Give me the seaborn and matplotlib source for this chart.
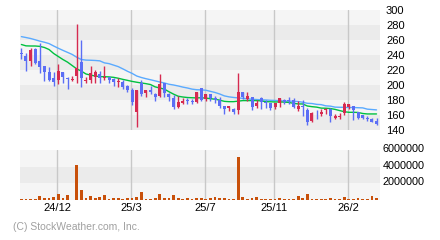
import numpy as np
import pandas as pd
import matplotlib
matplotlib.use("Agg")
import matplotlib.pyplot as plt
import matplotlib.transforms as mtransforms
import seaborn as sns

# ---------------- data ----------------
opens = [242, 238.7, 232.5, 248, 232, 225.4, 217.4, 209, 206.7, 217.4,
         209.4, 206.7, 212.5, 231.1, 205.9, 206.7, 211.1, 214.3, 209, 210.3,
         207.6, 204, 204.5, 198.7, 193.4, 164.4, 202.3, 189, 193.4, 188,
         185.8, 203.2, 188, 183.2, 171.1, 176.6, 180, 178.3, 177.8, 195.6,
         181, 187.6, 183.2, 180, 172, 169.4, 167.6, 166.7, 191.1, 181,
         183.6, 172, 182.3, 177.8, 175.6, 171.1, 175.6, 180, 180, 180,
         168.4, 172, 166.7, 152, 163.2, 161.3, 166.7, 167.6, 155.6, 157,
         163.2, 171.1, 172, 164.4, 160, 156.5, 154.7, 152]
highs = [249, 243, 248.9, 249, 255.6, 225.4, 223.6, 217.8, 228, 217.4,
         211.1, 212.5, 281.3, 260, 211.1, 225.4, 220, 218.7, 225.4, 211.1,
         209, 209, 206.7, 200, 195.6, 193.4, 206.7, 193.4, 198.7, 189,
         214.7, 203.2, 189, 186.7, 185.4, 182.3, 182.3, 181, 191.1, 195.6,
         187.6, 187.6, 185.4, 183.6, 172, 172, 169.8, 216.5, 191.1, 191.1,
         183.6, 180, 183.6, 180, 176.5, 176.5, 183.2, 181, 183.6, 182.3,
         178.7, 180, 168.9, 164.4, 166.7, 167.6, 168.9, 168.9, 161.4, 162.3,
         177, 174.2, 172, 164.4, 160, 158.7, 155.6, 155.6]
lows = [234, 218.7, 225.8, 227.6, 215.6, 205.9, 205.9, 198.7, 201.3, 202.3,
        194.7, 205.4, 202.3, 197.8, 203.2, 203.2, 203.2, 203.2, 206.7, 202.3,
        198.7, 197.8, 194.2, 190.7, 173.4, 144.4, 185.4, 184.5, 188, 179,
        184.5, 183.6, 178.7, 168, 169.8, 174.7, 174.7, 174.7, 176.5, 179.2,
        179.2, 179.2, 176.5, 169, 161.4, 165.9, 161.4, 161.4, 181, 178.7,
        166.7, 169.8, 168, 169.8, 166.7, 168, 171.1, 174.2, 174.2, 169.8,
        165.9, 158.7, 146.7, 150.7, 154.7, 158.7, 161.4, 150, 154.2, 154.7,
        160, 168, 153.3, 154.2, 154.7, 152, 150.2, 146.7]
closes = [241, 232.5, 246.7, 228.9, 223.6, 217.8, 206.7, 204.5, 218.3, 211.1,
          207.6, 208, 222.7, 209, 207.2, 215.6, 217.4, 209, 211.1, 206.7,
          204.5, 205, 197, 193.4, 177.9, 193.4, 188, 193.4, 190.3, 183.6,
          201.3, 189, 183.6, 171.1, 177.8, 179.2, 178.3, 177.4, 191.1, 180,
          187.6, 182.3, 180, 172, 168, 172, 164.4, 191.1, 183.6, 185.4,
          171.1, 176.5, 177.8, 176.5, 169, 175.6, 182.3, 177.8, 179.2, 171.1,
          172, 170.3, 151.1, 163.2, 162.3, 164.4, 167.6, 158.7, 158.7, 158.7,
          174.7, 174.2, 166.7, 156.5, 156.5, 155.1, 151.1, 148]
ma_short = [254, 252.2, 252, 252, 251.5, 250, 247.3, 242, 238, 234,
            230.5, 226, 221.5, 218.5, 214.7, 213.2, 212, 211.1, 211.1, 210.8,
            210.2, 209, 207.5, 206.2, 204.8, 203.7, 202.7, 201.8, 200.6, 197.5,
            196, 194.5, 191, 187.8, 185, 184, 183.3, 183, 182.8, 183,
            182.5, 181.8, 181, 179.8, 178.2, 177.8, 177.8, 178.5, 179.2, 179.2,
            179.2, 179.2, 178.8, 177.8, 177.6, 177.4, 177.4, 177.2, 176.8, 175.5,
            174.8, 174.7, 172, 171.1, 170.5, 169.2, 169, 168.6, 167.5, 165.9,
            164.4, 163.6, 163.6, 163.4, 162, 161.4, 161.4, 161.4]
ma_long = [264.5, 263.3, 262, 260.3, 258.5, 257, 255.2, 252, 249, 246.2,
           243.5, 240.8, 237, 234, 233.2, 233, 232.7, 232.2, 229.5, 228.5,
           226.5, 224.5, 221.5, 218.3, 215.5, 212, 210, 208.4, 207, 205.5,
           204, 202.7, 201, 200, 198.7, 197.2, 196, 194.5, 193.7, 193.5,
           193, 191.5, 190, 188, 185.5, 184.2, 183.4, 182.8, 182.2, 181.6,
           181, 180.6, 180.3, 180, 179.6, 179.4, 179.1, 178.6, 178.5, 178.3,
           178, 177, 175.6, 175.3, 174.2, 173.8, 172.2, 171.8, 170.5, 170.3,
           170.2, 170, 170, 169.7, 169.5, 167.8, 167.3, 166.8]
volumes = [120000, 120000, 120000, 120000, 480000, 240000, 240000, 360000, 720000, 240000,
           600000, 30000, 4200000, 1200000, 240000, 480000, 280000, 360000, 600000, 120000,
           240000, 240000, 120000, 240000, 240000, 360000, 960000, 120000, 120000, 240000,
           720000, 240000, 240000, 600000, 240000, 120000, 240000, 120000, 240000, 240000,
           120000, 240000, 360000, 240000, 240000, 120000, 120000, 5200000, 360000, 120000,
           240000, 360000, 120000, 120000, 120000, 120000, 240000, 120000, 120000, 120000,
           480000, 240000, 720000, 120000, 120000, 120000, 120000, 240000, 120000, 120000,
           360000, 120000, 120000, 240000, 120000, 120000, 480000, 240000]
date_labels = ["24/12", "25/3", "25/7", "25/11", "26/2"]
date_label_bars = [8, 24, 40, 55, 71]
price_ticks = [140, 160, 180, 200, 220, 240, 260, 280, 300]
volume_ticks = [2000000, 4000000, 6000000]
copyright_text = "(C) StockWeather.com, Inc."

# ---------------- styling ----------------
sns.set_style("white")
plt.rcParams['font.family'] = ['Liberation Sans', 'DejaVu Sans']

UP = '#d62a50'
DOWN = '#5b6ef5'
LIGHT = '#f5f5f5'
DARK = '#ebebeb'
GRID = '#c8c8c8'

n = len(opens)
df = pd.DataFrame({
    'bar': np.arange(n), 'open': opens, 'high': highs, 'low': lows,
    'close': closes, 'ma_short': ma_short, 'ma_long': ma_long, 'volume': volumes,
})

fig = plt.figure(figsize=(4.4, 2.4), dpi=100)
axp = fig.add_axes([20 / 440, 1 - 130 / 240, 360 / 440, 120 / 240])
axv = fig.add_axes([20 / 440, 1 - 200 / 240, 360 / 440, 50 / 240])

# background bands
for k, lo in enumerate(price_ticks[:-1]):
    axp.axhspan(lo, lo + 20, color=LIGHT if k % 2 else DARK, lw=0, zorder=0)
for k, lo in enumerate([0] + volume_ticks[:-1]):
    axv.axhspan(lo, lo + 2000000, color=DARK if k % 2 else LIGHT, lw=0, zorder=0)

grid_pos = [b - 0.2 for b in date_label_bars]
for gx in grid_pos:
    axp.axvline(gx, color=GRID, lw=1, zorder=1)
    axv.axvline(gx, color=GRID, lw=1, zorder=1)

# moving averages
sns.lineplot(data=df, x='bar', y='ma_long', color='#5aaaff', lw=1, ax=axp, zorder=2)
sns.lineplot(data=df, x='bar', y='ma_short', color='#00c040', lw=1, ax=axp, zorder=2)

# candles
up = df['close'] >= df['open']
cols = np.where(up, UP, DOWN)
axp.vlines(df['bar'], df['low'], df['high'], colors=cols, lw=1, zorder=3)
body_lo = np.minimum(df['open'], df['close'])
body_h = np.maximum(np.abs(df['close'] - df['open']), 1.0)
axp.bar(df['bar'], body_h, bottom=body_lo, width=0.65, color=cols, lw=0, zorder=4)

# volume
sns.barplot(data=df, x='bar', y='volume', native_scale=True, color='#c8500a',
            saturation=1, width=0.6, linewidth=0, errorbar=None, ax=axv, zorder=3)

for ax in (axp, axv):
    ax.set_xlim(-0.3, 77.75)
    for s in ax.spines.values():
        s.set_visible(False)
    ax.set_xlabel('')
    ax.set_ylabel('')
    ax.yaxis.tick_right()

axp.set_ylim(140, 300)
axp.set_xticks([])
axp.set_yticks(price_ticks)
axp.set_yticklabels([str(t) for t in price_ticks])
axp.tick_params(axis='y', length=0, pad=4.3, labelsize=8, colors='black')

axv.set_ylim(0, 6000000)
axv.set_yticks(volume_ticks)
axv.set_yticklabels([str(t) for t in volume_ticks])
axv.tick_params(axis='y', length=0, pad=2, labelsize=7.8, colors='black')
axv.set_xticks(grid_pos)
axv.set_xticklabels(date_labels)
axv.tick_params(axis='x', length=0, pad=2, labelsize=8, colors='black')
shift = mtransforms.ScaledTranslation(0, 2 / 100, fig.dpi_scale_trans)
for lab in axv.get_yticklabels():
    lab.set_transform(lab.get_transform() + shift)

fig.text(12.7 / 440, 1 - 227.5 / 240, copyright_text, color='#a0a0a0',
         fontsize=7.5, va='center', ha='left')

fig.savefig('out.png', dpi=100, facecolor='white')
